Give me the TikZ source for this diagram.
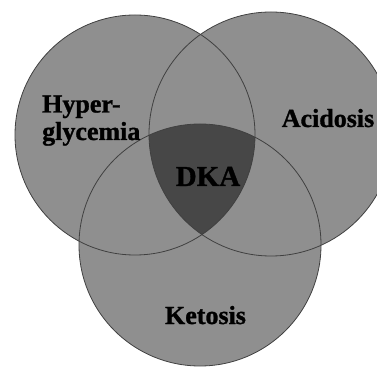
\documentclass[tikz,border=0pt]{standalone}
\usepackage{fontspec}
\setmainfont{Liberation Serif}[BoldFeatures={FakeBold=1.2}]
\usetikzlibrary{positioning}

\begin{document}
\begin{tikzpicture}[
        x=1pt, y=1pt,
        font=\bfseries,
        % Styles
        setfill/.style={fill=black!44},
        setline/.style={draw=black!75, line width=0.8pt},
        corefill/.style={fill=black!72},
        setlabel/.style={font=\fontsize{26}{27.5}\selectfont\bfseries, inner sep=0pt, align=left, text=black},
        corelabel/.style={font=\fontsize{29}{30}\selectfont\bfseries, inner sep=0pt, text=black}
    ]

    % page frame; the right disc runs off the edge
    \clip (0,0) rectangle (377,367);

    % ================= SET CENTRES =================
    \coordinate (hyperC) at (135,232);
    \coordinate (acidC) at (271,233);
    \coordinate (ketoC) at (200,122);

    % ================= DISCS =================
    \fill[setfill] (hyperC) circle[radius=120pt];
    \fill[setfill] (acidC) circle[radius=122pt];
    \fill[setfill] (ketoC) circle[radius=121pt];

    % ================= TRIPLE OVERLAP =================
    % clipped to all three discs
    \begin{scope}
        \clip (hyperC) circle[radius=120pt];
        \clip (acidC) circle[radius=122pt];
        \fill[corefill] (ketoC) circle[radius=121pt];
    \end{scope}

    % ================= OUTLINES =================
    \draw[setline] (hyperC) circle[radius=120pt];
    \draw[setline] (acidC) circle[radius=122pt];
    \draw[setline] (ketoC) circle[radius=121pt];

    % ================= LABELS =================
    % base of a two-line node sits on its last line
    \node[setlabel, anchor=base west] (hyper) at (42,227) {Hyper-\\glycemia};
    \node[setlabel, anchor=base] (acid) at (328,240) {Acidosis};
    \node[setlabel, anchor=base] (keto) at (205.5,43) {Ketosis};
    \node[corelabel, anchor=base] (dka) at (208,181) {DKA};

\end{tikzpicture}
\end{document}
